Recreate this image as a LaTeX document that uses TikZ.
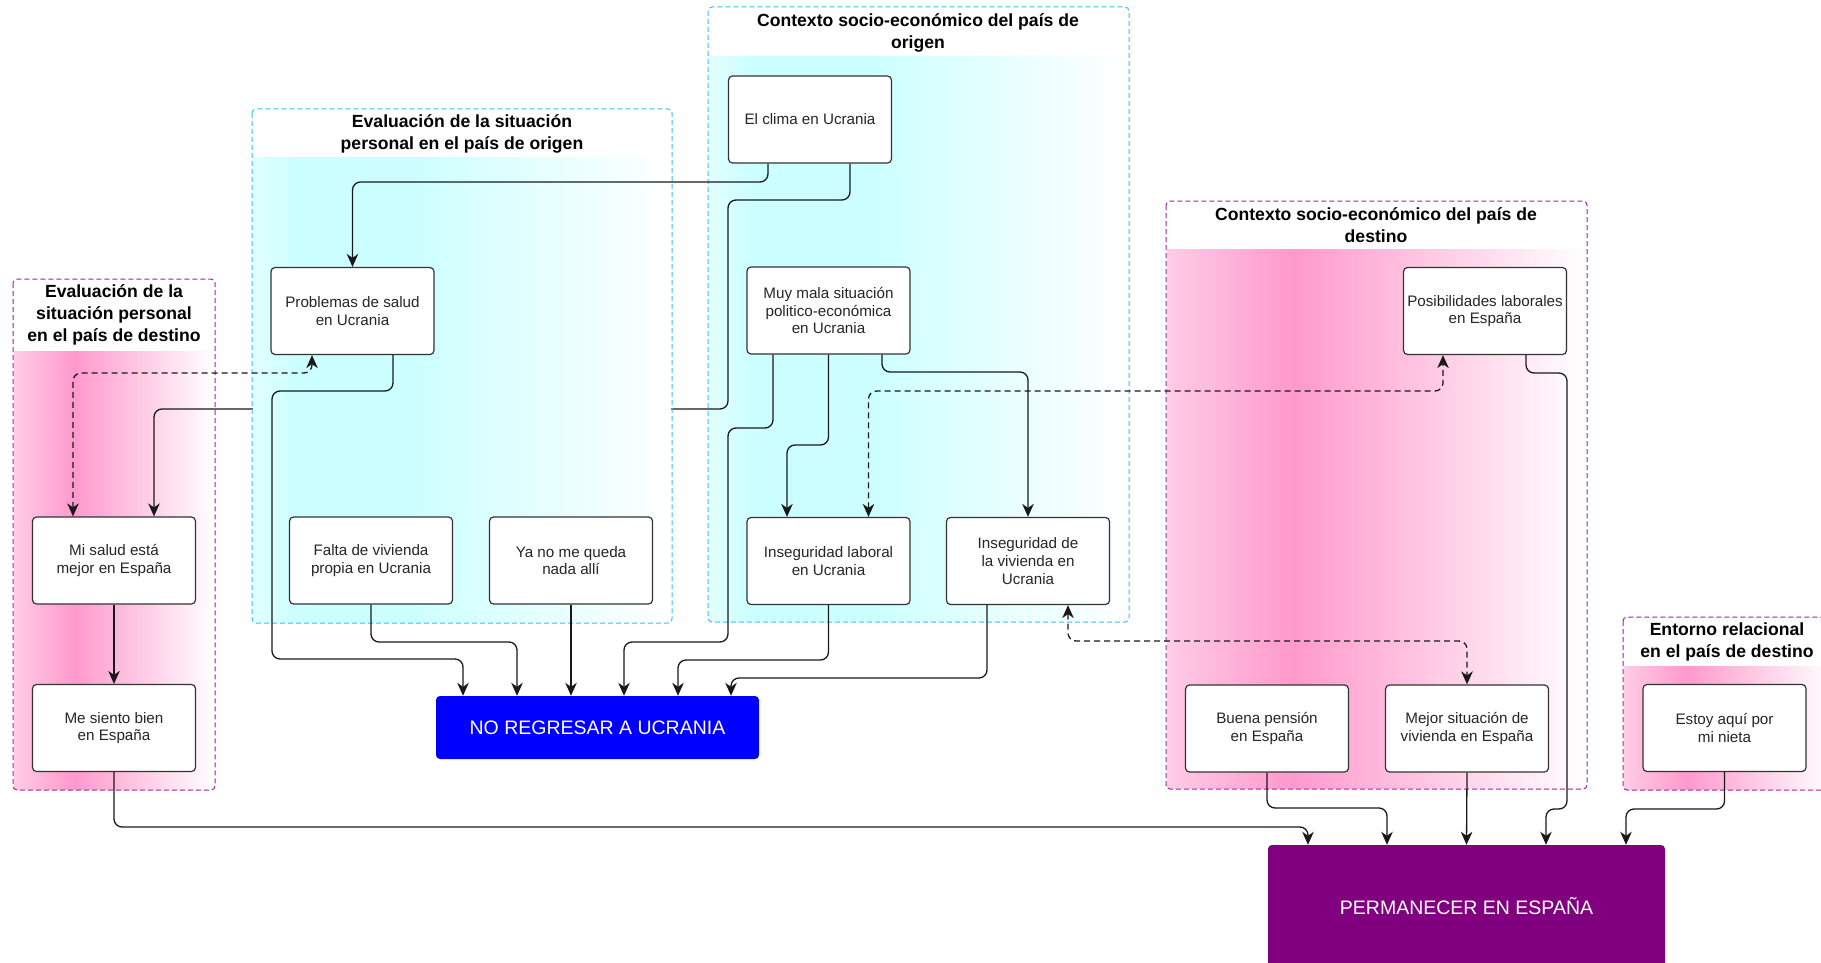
\documentclass[tikz,border=0pt]{standalone}
\usepackage{fontspec}
\setmainfont{Liberation Sans}
\usetikzlibrary{arrows.meta}
\definecolor{pinkA}{HTML}{FFCCE6}
\definecolor{pinkB}{HTML}{FF99CC}
\definecolor{cyanA}{HTML}{E2FFFF}
\definecolor{cyanB}{HTML}{CCFFFF}
\definecolor{cyanborder}{HTML}{33C3F0}
\definecolor{purpleborder}{HTML}{A020A0}
\definecolor{noblue}{HTML}{0000FF}
\definecolor{permpurple}{HTML}{800080}
\definecolor{boxline}{HTML}{333333}
\pgfdeclarehorizontalshading{pinkgrad}{100bp}{color(0bp)=(pinkA); color(25bp)=(pinkA); color(40bp)=(pinkB); color(75bp)=(white); color(100bp)=(white)}
\pgfdeclarehorizontalshading{cyangrad}{100bp}{color(0bp)=(cyanA); color(25bp)=(cyanA); color(30bp)=(cyanB); color(44bp)=(cyanB); color(75bp)=(white); color(100bp)=(white)}
\pgfdeclarelayer{groupsA}
\pgfdeclarelayer{hidden}
\pgfdeclarelayer{groupsB}
\pgfsetlayers{groupsA,hidden,groupsB,main}
\begin{document}
\begin{tikzpicture}[x=1pt,y=-1pt,
  box/.style={draw=boxline, fill=white, rounded corners=4pt, line width=1.2pt,
    minimum width=163pt, minimum height=87pt, align=center, inner sep=1pt,
    text=black!85, font=\fontsize{15.2}{17.6}\selectfont},
  bigbox/.style={rounded corners=4pt, align=center, text=white,
    font=\fontsize{19.5}{23}\selectfont},
  gtitle/.style={align=center, font=\fontsize{17.6}{22}\selectfont\bfseries, inner sep=0pt},
  pinkgroup/.style={draw=purpleborder, dash pattern=on 5pt off 3pt, line width=1pt, rounded corners=4pt},
  cyangroup/.style={draw=cyanborder, dash pattern=on 5pt off 3pt, line width=1pt, rounded corners=4pt},
  conn/.style={draw=black!90, line width=1.3pt, rounded corners=8pt,
    -{Stealth[length=13pt,width=11.5pt,inset=4pt]}},
  dconn/.style={conn, dash pattern=on 6pt off 4pt,
    {Stealth[length=13pt,width=11.5pt,inset=4pt]}-{Stealth[length=13pt,width=11.5pt,inset=4pt]}}
]
\useasboundingbox (0,0) rectangle (1821,963);

% ---- groups (first layer) ----
\begin{pgfonlayer}{groupsA}
\fill[white] (0,0) rectangle (1821,963);
% G1 pink: evaluacion destino
\shade[shading=pinkgrad] (14,351) rectangle (214,789);
\draw[pinkgroup] (13,279) rectangle (215,790);
\node[gtitle] (t1) at (114,315) {Evaluación de la\\situación personal\\en el país de destino};
% G3 cyan: contexto origen
\shade[shading=cyangrad] (709,57) rectangle (1128,621);
\draw[cyangroup] (708,7) rectangle (1129,622);
\node[gtitle] (t3) at (918,33) {Contexto socio-económico del país de\\origen};
% G4 pink: contexto destino
\shade[shading=pinkgrad] (1167,249) rectangle (1586,788);
\draw[pinkgroup] (1166,201) rectangle (1587,789);
\node[gtitle] (t4) at (1376,225) {Contexto socio-económico del país de\\destino};
% G5 pink: entorno relacional
\shade[shading=pinkgrad] (1624,666) rectangle (1831,789);
\draw[pinkgroup] (1623,617) rectangle (1832,790);
\node[gtitle] (t5) at (1727,642) {Entorno relacional\\en el país de destino};
\end{pgfonlayer}

% ---- G2 cyan: evaluacion origen (covers a connector) ----
\begin{pgfonlayer}{groupsB}
\shade[shading=cyangrad] (253,158) rectangle (671,622);
\draw[cyangroup] (252,109) rectangle (672,623);
\node[gtitle] (t2) at (462,134) {Evaluación de la situación\\personal en el país de origen};
\end{pgfonlayer}

% ---- nodes ----
\node[box] (misalud) at (114,560.5) {Mi salud está\\mejor en España};
\node[box] (mesiento) at (114,728) {Me siento bien\\en España};
\node[box] (problemas) at (352.5,311) {Problemas de salud\\en Ucrania};
\node[box] (falta) at (371,560.5) {Falta de vivienda\\propia en Ucrania};
\node[box] (yano) at (571,560.5) {Ya no me queda\\nada allí};
\node[box] (clima) at (810,119.5) {El clima en Ucrania};
\node[box] (muymala) at (828.5,310.5) {Muy mala situación\\politico-económica\\en Ucrania};
\node[box] (inseglab) at (828.5,561) {Inseguridad laboral\\en Ucrania};
\node[box] (insegviv) at (1028,561) {Inseguridad de\\la vivienda en\\Ucrania};
\node[box] (posib) at (1485,311) {Posibilidades laborales\\en España};
\node[box] (buena) at (1267,728.5) {Buena pensión\\en España};
\node[box] (mejor) at (1467,728.5) {Mejor situación de\\vivienda en España};
\node[box] (estoy) at (1724.5,728) {Estoy aquí por\\mi nieta};
\node[bigbox, fill=noblue, minimum width=323pt, minimum height=63pt] (noreg) at (597.5,727.5) {NO REGRESAR A UCRANIA};
\node[bigbox, fill=permpurple, minimum width=397pt, minimum height=122pt] (perm) at (1466.5,906) {PERMANECER EN ESPAÑA};

% ---- hidden connector (passes under G2) ----
\begin{pgfonlayer}{hidden}
\draw[conn] ([xshift=40pt]clima.south) -- (850,200) -- (728,200) -- (728,409) -- (154,409) -- ([xshift=40pt]misalud.north);
\end{pgfonlayer}

% ---- connectors ----
\draw[conn] ([xshift=-42pt]clima.south) -- (768,182) -- (352.5,182) -- (problemas.north);
\draw[dconn] ([xshift=-41pt]misalud.north) -- (73,373) -- (312,373) -- ([xshift=-40.5pt]problemas.south);
\draw[conn] (misalud.south) -- (mesiento.north);
\draw[conn] ([xshift=40.5pt]problemas.south) -- (393,391) -- (272,391) -- (272,659) -- (463,659) -- ([xshift=-134.5pt]noreg.north);
\draw[conn] (falta.south) -- (371,642) -- (517,642) -- ([xshift=-80.5pt]noreg.north);
\draw[conn] (yano.south) -- ([xshift=-26.5pt]noreg.north);
\draw[conn] ([xshift=-55.5pt]muymala.south) -- (773,428) -- (728,428) -- (728,642) -- (624,642) -- ([xshift=26.5pt]noreg.north);
\draw[conn] (muymala.south) -- (828.5,445) -- (787,445) -- ([xshift=-41.5pt]inseglab.north);
\draw[conn] ([xshift=53.5pt]muymala.south) -- (882,372) -- (1028,372) -- (insegviv.north);
\draw[dconn] ([xshift=40pt]inseglab.north) -- (868.5,391) -- (1443,391) -- ([xshift=-42pt]posib.south);
\draw[conn] (inseglab.south) -- (828.5,660) -- (678,660) -- ([xshift=80.5pt]noreg.north);
\draw[conn] ([xshift=-41pt]insegviv.south) -- (987,678) -- (731,678) -- ([xshift=133.5pt]noreg.north);
\draw[dconn] ([xshift=40pt]insegviv.south) -- (1068,641) -- (1467,641) -- (mejor.north);
\draw[conn] (mesiento.south) -- (114,827) -- (1308,827) -- ([xshift=-158.5pt]perm.north);
\draw[conn] (buena.south) -- (1267,808) -- (1387,808) -- ([xshift=-79.5pt]perm.north);
\draw[conn] (mejor.south) -- (perm.north);
\draw[conn] ([xshift=41pt]posib.south) -- (1526,373) -- (1567,373) -- (1567,809) -- (1546,809) -- ([xshift=79.5pt]perm.north);
\draw[conn] (estoy.south) -- (1724.5,809) -- (1626,809) -- ([xshift=159.5pt]perm.north);
\end{tikzpicture}
\end{document}
